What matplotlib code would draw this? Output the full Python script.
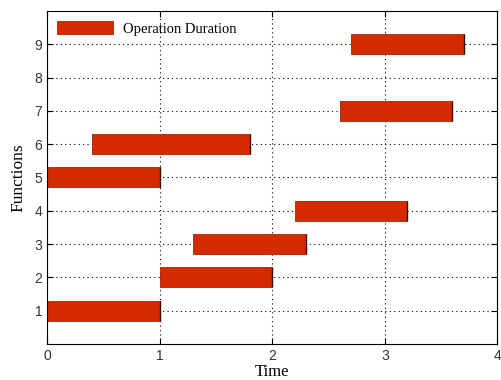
import numpy as np
import matplotlib
matplotlib.use('Agg')
import matplotlib.pyplot as plt

# start / end time for each function
functions = [1, 2, 3, 4, 5, 6, 7, 9]
start = [0.0, 1.0, 1.3, 2.2, 0.0, 0.4, 2.6, 2.7]
finish = [1.0, 2.0, 2.3, 3.2, 1.0, 1.8, 3.6, 3.7]

duration = np.array(finish) - np.array(start)

fig = plt.figure(figsize=(5.01, 3.8), dpi=100)
ax = fig.add_axes([0.094, 0.095, 0.899, 0.876])

ax.barh(functions, duration, left=start, height=0.6, color='#d42a00',
        edgecolor='#b02200', linewidth=0.6, label='Operation Duration')
# darker line at the end of each operation
ax.vlines(finish, np.array(functions) - 0.3, np.array(functions) + 0.3,
          color='#3a0a00', linewidth=1.0)

ax.set_xlim(0, 4)
ax.set_ylim(0, 10)
ax.set_xticks([0, 1, 2, 3, 4])
ax.set_yticks(range(1, 10))
ax.grid(True, linestyle=(0, (1, 3)), color='black', linewidth=0.8)
ax.set_axisbelow(True)
ax.tick_params(direction='in', top=True, right=True, length=4, labelsize=10)
for lab in ax.get_xticklabels() + ax.get_yticklabels():
    lab.set_family('Liberation Sans')
    lab.set_color('#333333')

ax.set_xlabel('Time', family='Liberation Serif', fontsize=12, labelpad=1)
ax.set_ylabel('Functions', family='Liberation Serif', fontsize=12.5, labelpad=6)

leg = ax.legend(loc='upper left', frameon=False, prop={'family': 'Liberation Serif', 'size': 10.5},
                handlelength=3.8, handleheight=1.0, borderaxespad=0.3, handletextpad=0.7)

fig.savefig('out.png', dpi=100)
